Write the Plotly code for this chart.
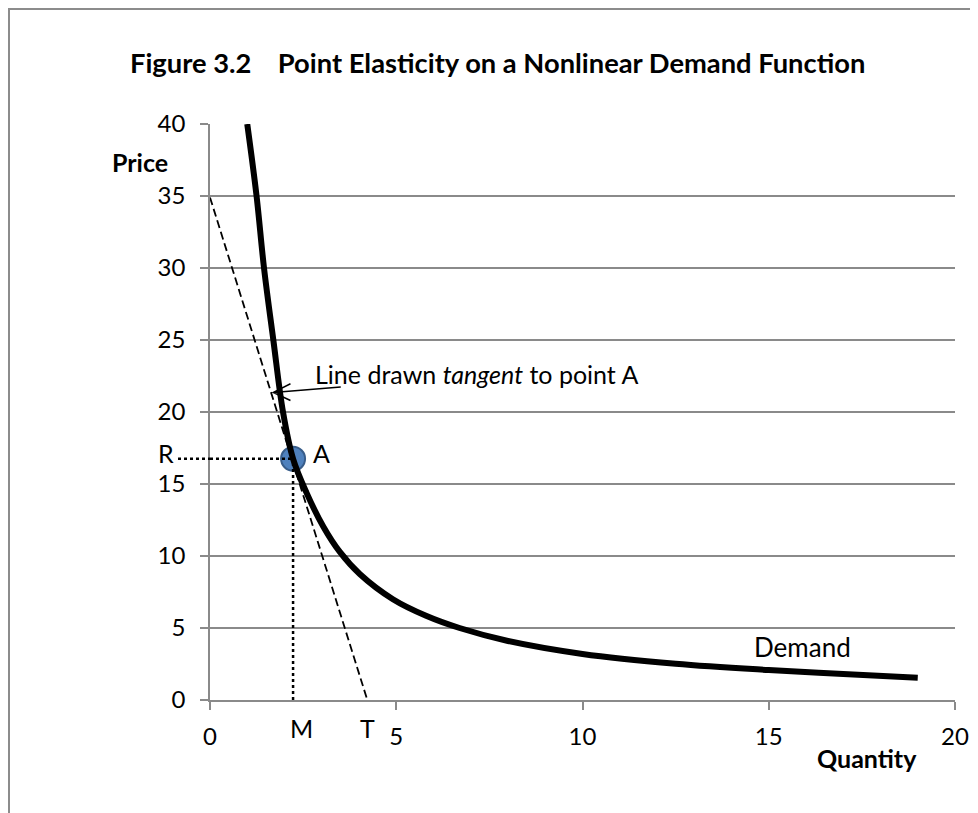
import plotly.graph_objects as go

# ---------------- data ----------------
quantity = [1.0, 1.25, 1.45, 1.7, 1.96, 2.23, 2.59, 3.04, 3.48, 4.02, 4.91, 5.8, 6.7, 8.0, 10, 12.5, 15, 17, 19]
price = [40, 35, 30, 25, 20, 16.75, 14.4, 12.05, 10.3, 8.75, 7.0, 5.85, 5.0, 4.1, 3.2, 2.52, 2.08, 1.8, 1.55]

point_a_q = 2.23
point_a_p = 16.75

tangent_q = [0, 4.29]
tangent_p = [34.9, -0.55]

x_ticks = [0, 5, 10, 15, 20]
y_ticks = [0, 5, 10, 15, 20, 25, 30, 35, 40]
X_MAX = 20
Y_MAX = 40

FONT = "Lato"
GRID = "#8a8a8a"

# page offset of the figure (browser body margin)
OFF = 8
W, H = 978, 813
ML, MT = 210 - OFF, 124 - OFF
MR = W + OFF - 955
MB = H + OFF - 700
PW = 955 - 210
PH = 700 - 124


def px(x):
    return (x - 210) / PW


def py(y):
    return (700 - y) / PH


fig = go.Figure()

# point A marker (under the curve)
fig.add_trace(go.Scatter(
    x=[point_a_q], y=[point_a_p], mode="markers",
    marker=dict(size=24, color="#4f81bd", line=dict(color="#385d8a", width=2)),
    showlegend=False, hoverinfo="skip"))

# tangent line (dashed)
fig.add_trace(go.Scatter(
    x=tangent_q, y=tangent_p, mode="lines",
    line=dict(color="black", width=1.8, dash="8px,4px"),
    showlegend=False, hoverinfo="skip"))

# demand curve
fig.add_trace(go.Scatter(
    x=quantity, y=price, mode="lines",
    line=dict(color="black", width=6, shape="spline", smoothing=1.0),
    showlegend=False, hoverinfo="skip"))

# dotted guide lines
fig.add_trace(go.Scatter(
    x=[point_a_q, point_a_q], y=[0, point_a_p], mode="lines",
    line=dict(color="black", width=2.5, dash="dot"),
    showlegend=False, hoverinfo="skip"))
fig.add_trace(go.Scatter(
    x=[0, point_a_q], y=[point_a_p, point_a_p], mode="lines",
    line=dict(color="black", width=2.5, dash="dot"),
    showlegend=False, hoverinfo="skip"))

shapes = [
    # part of R dotted line left of the axis
    dict(type="line", xref="paper", yref="paper",
         x0=px(178), x1=0, y0=point_a_p / Y_MAX, y1=point_a_p / Y_MAX,
         line=dict(color="black", width=2.5, dash="dot")),
    # open arrow pointing at the tangent
    dict(type="path", xref="x", yref="y",
         path="M 2.16 21.96 L 1.70 21.36 L 2.16 20.8 M 1.70 21.36 L 3.51 21.73",
         line=dict(color="black", width=1.5)),
    # chart border
    dict(type="rect", xref="paper", yref="paper",
         x0=px(9), x1=1.2, y0=-0.4, y1=py(9),
         line=dict(color="#8c8c8c", width=2), fillcolor="rgba(0,0,0,0)"),
]

txt = dict(family=FONT, size=25, color="black")
annotations = [
    dict(text="Figure 3.2    Point Elasticity on a Nonlinear Demand Function",
         xref="paper", yref="paper", x=px(497), y=py(62),
         showarrow=False, xanchor="center", yanchor="middle",
         font=dict(family=FONT, size=27.3, color="black", weight="bold")),
    dict(text="Price", xref="paper", yref="paper", x=px(140), y=py(162),
         showarrow=False, xanchor="center", yanchor="middle",
         font=dict(family=FONT, size=25, color="black", weight="bold")),
    dict(text="Quantity", xref="paper", yref="paper", x=px(867), y=py(758),
         showarrow=False, xanchor="center", yanchor="middle",
         font=dict(family=FONT, size=25, color="black", weight="bold")),
    dict(text="Line drawn <i>tangent</i> to point A", xref="x", yref="y",
         x=2.76, y=22.65, showarrow=False, xanchor="left", yanchor="middle", font=txt),
    dict(text="A", xref="x", yref="y", x=3.0, y=17.16, showarrow=False,
         xanchor="center", yanchor="middle", font=txt),
    dict(text="R", xref="paper", yref="y", x=px(166), y=17.16, showarrow=False,
         xanchor="center", yanchor="middle", font=txt),
    dict(text="M", xref="paper", yref="paper", x=px(301), y=py(728),
         showarrow=False, xanchor="center", yanchor="middle", font=txt),
    dict(text="T", xref="paper", yref="paper", x=px(367), y=py(728),
         showarrow=False, xanchor="center", yanchor="middle", font=txt),
    dict(text="Demand", xref="x", yref="y", x=15.9, y=3.68, showarrow=False,
         xanchor="center", yanchor="middle",
         font=dict(family=FONT, size=26, color="black")),
]

fig.update_layout(
    width=W, height=H,
    margin=dict(l=ML, r=MR, t=MT, b=MB, autoexpand=False),
    paper_bgcolor="white", plot_bgcolor="white",
    shapes=shapes, annotations=annotations,
    showlegend=False,
    xaxis=dict(range=[0, X_MAX], tickvals=x_ticks, showgrid=False, zeroline=False,
               showline=True, linecolor=GRID, linewidth=1.5, automargin=False,
               ticks="outside", ticklen=8, tickcolor=GRID, tickwidth=1.5,
               tickfont=dict(family=FONT, size=24, color="black"),
               ticklabelstandoff=6, fixedrange=True),
    yaxis=dict(range=[0, Y_MAX], tickvals=y_ticks, showgrid=True, gridcolor=GRID,
               gridwidth=1.5, zeroline=False, automargin=False,
               showline=True, linecolor=GRID, linewidth=1.5,
               ticks="outside", ticklen=8, tickcolor=GRID, tickwidth=1.5,
               tickfont=dict(family=FONT, size=24, color="black"),
               ticklabelstandoff=10, fixedrange=True),
)

fig.write_html("out.html")
